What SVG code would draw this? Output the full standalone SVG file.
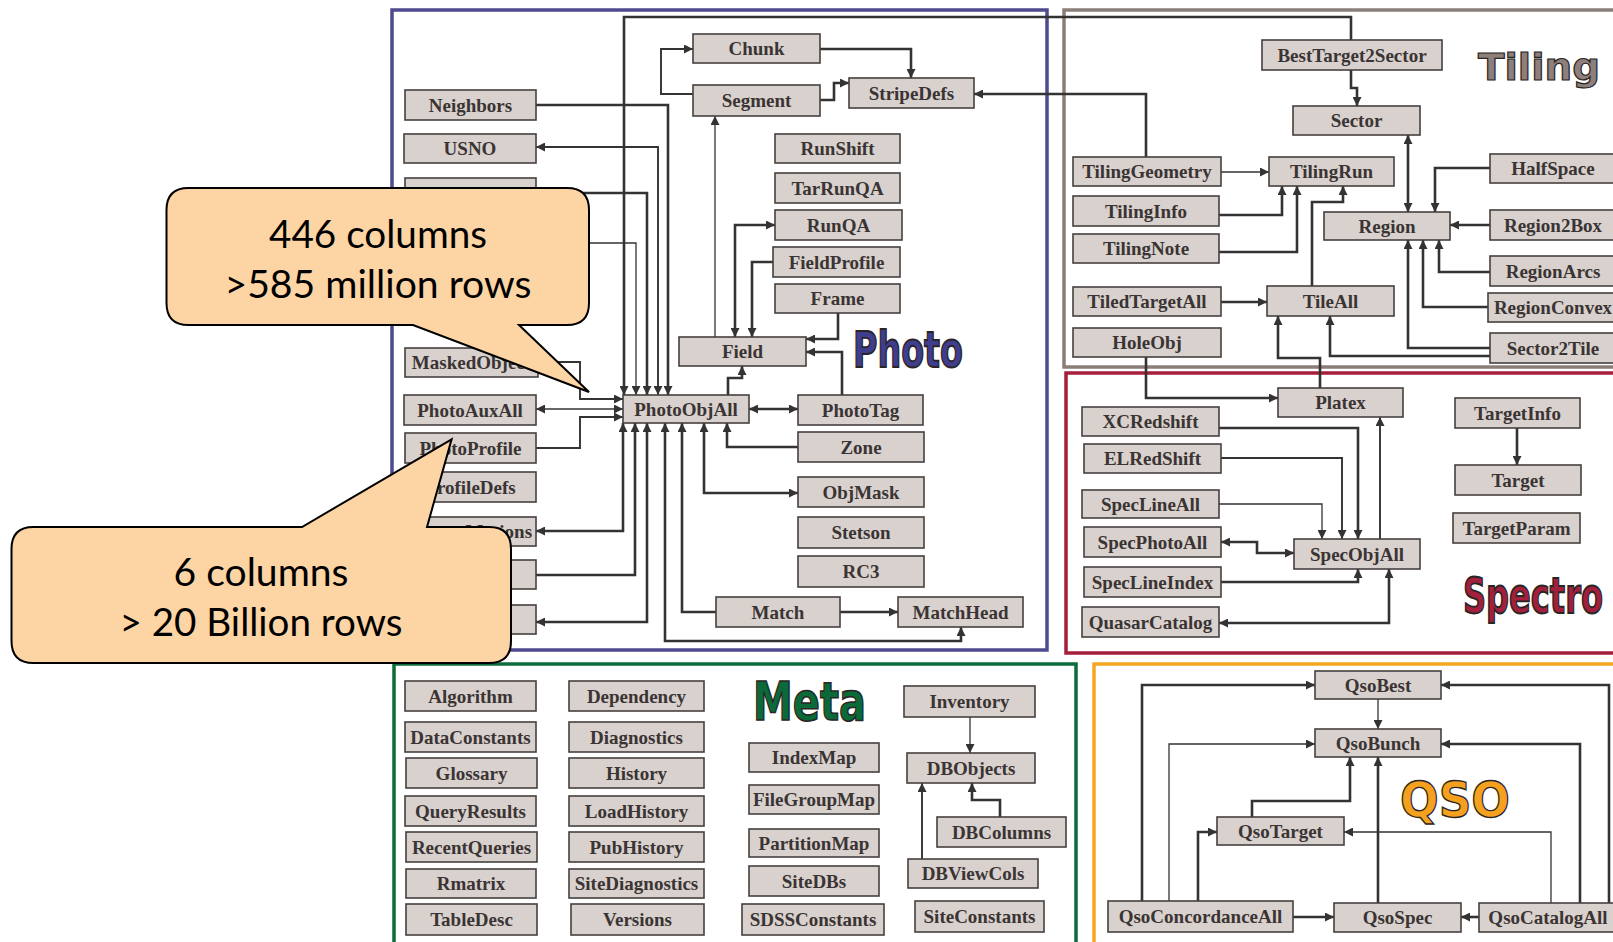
<svg xmlns="http://www.w3.org/2000/svg" width="1613" height="942" viewBox="0 0 1613 942">
<style>
.n rect{fill:#D9D1CD;stroke:#454040;stroke-width:1.6}
.n text{font-family:"Liberation Serif","Times New Roman",serif;font-weight:bold;font-size:19px;fill:#3a3434;text-anchor:middle}
.c path{fill:none;stroke:#333;stroke-width:2.6}
.c path.t{stroke-width:1.3}
.c path.m{stroke-width:1.9}
.e{marker-end:url(#ah)}
.b{marker-start:url(#ah);marker-end:url(#ah)}
.lbl{font-family:"DejaVu Sans","Liberation Sans",sans-serif;font-weight:bold;stroke:#2a2525;stroke-width:1.2}
.co{fill:#FDD4A4;stroke:#000;stroke-width:2}
.ct{font-family:Lato,"Liberation Sans",sans-serif;font-size:39px;fill:#000;text-anchor:middle}
</style>
<defs>
<marker id="ah" viewBox="0 0 10 10" refX="10" refY="5" markerWidth="9" markerHeight="9" markerUnits="userSpaceOnUse" orient="auto-start-reverse"><path d="M0,0 L10,5 L0,10 z" fill="#333"/></marker>
</defs>
<rect width="1613" height="942" fill="#fff"/>
<g id="frames" fill="none" stroke-width="3.5">
<rect x="392" y="10" width="655" height="640" stroke="#4E4A8E"/>
<rect x="1064" y="10" width="570" height="357" stroke="#8B7E79"/>
<rect x="1066" y="373" width="570" height="280" stroke="#A51E3C"/>
<rect x="394" y="664" width="682" height="300" stroke="#0E6B3C"/>
<rect x="1094" y="664" width="540" height="300" stroke="#F5A623"/>
</g>
<g id="connectors" class="c">
<path class="e" d="M1351,40 V17 H624 V395"/>
<path class="e" d="M536,105 H668 V395"/>
<path class="b m" d="M658,395 V147 H536"/>
<path class="e" d="M536,193 H647 V395"/>
<path class="e t" d="M536,243 H636 V395"/>
<path class="e m" d="M538,362 H580 V399 H623"/>
<path class="b t" d="M623,409 H536"/>
<path class="e m" d="M536,448 H580 V417 H623"/>
<path class="b" d="M623,423 V531 H536"/>
<path class="e" d="M536,575 H635 V423"/>
<path class="b" d="M647,423 V622 H536"/>
<path class="b" d="M665,423 V641 H961 V627"/>
<path class="e" d="M716,612 H682 V423"/>
<path class="b" d="M704,423 V493 H798"/>
<path class="e" d="M798,447 H727 V423"/>
<path class="b" d="M749,409 H798"/>
<path class="e" d="M728,395 V378 H742 V366"/>
<path class="e" d="M840,612 H898"/>
<path class="e" d="M838,313 V339 H806"/>
<path class="e" d="M842,395 V352 H806"/>
<path class="e t" d="M715,337 V116"/>
<path class="b" d="M775,225 H735 V337"/>
<path class="e" d="M773,262 H752 V337"/>
<path class="e m" d="M693,94 H661 V49 H693"/>
<path class="e" d="M820,49 H911 V78"/>
<path class="e" d="M820,100 H834 V83 H849"/>
<path class="e" d="M1146,157 V94 H974"/>
<path class="e" d="M1351,70 V88 H1357 V106"/>
<path class="e t" d="M1221,172 H1269"/>
<path class="e" d="M1219,215 H1282 V186"/>
<path class="e" d="M1219,252 H1297 V186"/>
<path class="e" d="M1312,286 V202 H1343 V186"/>
<path class="b" d="M1408,135 V212"/>
<path class="e" d="M1490,168 H1435 V212"/>
<path class="e" d="M1490,225 H1450"/>
<path class="e" d="M1490,272 H1439 V240"/>
<path class="e" d="M1488,307 H1423 V240"/>
<path class="e" d="M1490,348 H1408 V240"/>
<path class="e" d="M1490,356 H1330 V316"/>
<path class="e" d="M1221,302 H1267"/>
<path class="e" d="M1320,388 V358 H1278 V316"/>
<path class="e" d="M1146,357 V398 H1278"/>
<path class="e" d="M1219,428 H1358 V539"/>
<path class="e m" d="M1221,458 H1342 V539"/>
<path class="e t" d="M1219,504 H1322 V539"/>
<path class="e m" d="M1380,539 V417"/>
<path class="b" d="M1221,542 H1257 V553 H1294"/>
<path class="e" d="M1221,582 H1358 V569"/>
<path class="b" d="M1389,569 V623 H1219"/>
<path class="e" d="M1517,428 V465"/>
<path class="e t" d="M970,717 V753"/>
<path class="e m" d="M922,859 V783"/>
<path class="e" d="M1000,817 V800 H972 V783"/>
<path class="e" d="M1142,901 V685 H1315"/>
<path class="e t" d="M1169,901 V744 H1315"/>
<path class="e" d="M1198,901 V832 H1217"/>
<path class="e" d="M1292,917 H1334"/>
<path class="e t" d="M1378,699 V729"/>
<path class="e" d="M1252,817 V801 H1350 V757"/>
<path class="e" d="M1378,903 V757"/>
<path class="e" d="M1479,917 H1461"/>
<path class="e t" d="M1551,903 V832 H1344"/>
<path class="e" d="M1580,903 V744 H1441"/>
<path class="e" d="M1609,903 V685 H1441"/>
</g>
<g id="n-neighbors" class="n"><rect x="405" y="90" width="131" height="30"/><text x="470.5" y="111.5">Neighbors</text></g>
<g id="n-usno" class="n"><rect x="404" y="134" width="132" height="29"/><text x="470" y="155">USNO</text></g>
<g id="n-hidden1" class="n"><rect x="405" y="178" width="131" height="30"/></g>
<g id="n-maskedobject" class="n"><rect x="405" y="348" width="133" height="29"/><text x="471.5" y="369">MaskedObject</text></g>
<g id="n-photoauxall" class="n"><rect x="404" y="395" width="132" height="30"/><text x="470" y="416.5">PhotoAuxAll</text></g>
<g id="n-photoprofile" class="n"><rect x="405" y="433" width="131" height="30"/><text x="470.5" y="454.5">PhotoProfile</text></g>
<g id="n-profiledefs" class="n"><rect x="405" y="472" width="131" height="30"/><text x="470.5" y="493.5">ProfileDefs</text></g>
<g id="n-propermotions" class="n"><rect x="405" y="517" width="131" height="29"/><text x="470.5" y="538">ProperMotions</text></g>
<g id="n-hidden2" class="n"><rect x="405" y="560" width="131" height="29"/></g>
<g id="n-hidden3" class="n"><rect x="405" y="605" width="131" height="29"/></g>
<g id="n-chunk" class="n"><rect x="693" y="34" width="127" height="29"/><text x="756.5" y="55">Chunk</text></g>
<g id="n-segment" class="n"><rect x="693" y="85" width="127" height="31"/><text x="756.5" y="107">Segment</text></g>
<g id="n-stripedefs" class="n"><rect x="849" y="78" width="125" height="30"/><text x="911.5" y="99.5">StripeDefs</text></g>
<g id="n-runshift" class="n"><rect x="775" y="134" width="125" height="29"/><text x="837.5" y="155">RunShift</text></g>
<g id="n-tarrunqa" class="n"><rect x="775" y="173" width="125" height="30"/><text x="837.5" y="194.5">TarRunQA</text></g>
<g id="n-runqa" class="n"><rect x="775" y="210" width="127" height="30"/><text x="838.5" y="231.5">RunQA</text></g>
<g id="n-fieldprofile" class="n"><rect x="773" y="247" width="127" height="30"/><text x="836.5" y="268.5">FieldProfile</text></g>
<g id="n-frame" class="n"><rect x="775" y="284" width="125" height="29"/><text x="837.5" y="305">Frame</text></g>
<g id="n-field" class="n"><rect x="679" y="337" width="127" height="29"/><text x="742.5" y="358">Field</text></g>
<g id="n-photoobjall" class="n"><rect x="623" y="395" width="126" height="28"/><text x="686" y="415.5">PhotoObjAll</text></g>
<g id="n-phototag" class="n"><rect x="798" y="395" width="125" height="30"/><text x="860.5" y="416.5">PhotoTag</text></g>
<g id="n-zone" class="n"><rect x="798" y="432" width="126" height="30"/><text x="861" y="453.5">Zone</text></g>
<g id="n-objmask" class="n"><rect x="798" y="477" width="126" height="30"/><text x="861" y="498.5">ObjMask</text></g>
<g id="n-stetson" class="n"><rect x="798" y="517" width="126" height="31"/><text x="861" y="539">Stetson</text></g>
<g id="n-rc3" class="n"><rect x="798" y="556" width="126" height="31"/><text x="861" y="578">RC3</text></g>
<g id="n-match" class="n"><rect x="716" y="597" width="124" height="30"/><text x="778" y="618.5">Match</text></g>
<g id="n-matchhead" class="n"><rect x="898" y="597" width="125" height="30"/><text x="960.5" y="618.5">MatchHead</text></g>
<g id="n-besttarget2sector" class="n"><rect x="1262" y="40" width="180" height="30"/><text x="1352" y="61.5">BestTarget2Sector</text></g>
<g id="n-sector" class="n"><rect x="1293" y="106" width="127" height="29"/><text x="1356.5" y="127">Sector</text></g>
<g id="n-tilinggeometry" class="n"><rect x="1073" y="157" width="148" height="29"/><text x="1147" y="178">TilingGeometry</text></g>
<g id="n-tilingrun" class="n"><rect x="1269" y="157" width="125" height="29"/><text x="1331.5" y="178">TilingRun</text></g>
<g id="n-tilinginfo" class="n"><rect x="1073" y="196" width="146" height="30"/><text x="1146" y="217.5">TilingInfo</text></g>
<g id="n-tilingnote" class="n"><rect x="1073" y="234" width="146" height="29"/><text x="1146" y="255">TilingNote</text></g>
<g id="n-region" class="n"><rect x="1324" y="212" width="126" height="28"/><text x="1387" y="232.5">Region</text></g>
<g id="n-halfspace" class="n"><rect x="1490" y="154" width="127" height="29"/><text x="1553" y="175">HalfSpace</text></g>
<g id="n-region2box" class="n"><rect x="1490" y="210" width="127" height="30"/><text x="1553" y="231.5">Region2Box</text></g>
<g id="n-regionarcs" class="n"><rect x="1490" y="256" width="127" height="30"/><text x="1553" y="277.5">RegionArcs</text></g>
<g id="n-regionconvex" class="n"><rect x="1488" y="293" width="129" height="29"/><text x="1553" y="314">RegionConvex</text></g>
<g id="n-sector2tile" class="n"><rect x="1490" y="333" width="127" height="30"/><text x="1553" y="354.5">Sector2Tile</text></g>
<g id="n-tiledtargetall" class="n"><rect x="1073" y="287" width="148" height="29"/><text x="1147" y="308">TiledTargetAll</text></g>
<g id="n-tileall" class="n"><rect x="1267" y="286" width="127" height="30"/><text x="1330.5" y="307.5">TileAll</text></g>
<g id="n-holeobj" class="n"><rect x="1073" y="328" width="148" height="29"/><text x="1147" y="349">HoleObj</text></g>
<g id="n-platex" class="n"><rect x="1278" y="388" width="125" height="29"/><text x="1340.5" y="409">Platex</text></g>
<g id="n-xcredshift" class="n"><rect x="1082" y="407" width="137" height="29"/><text x="1150.5" y="428">XCRedshift</text></g>
<g id="n-elredshift" class="n"><rect x="1084" y="444" width="137" height="29"/><text x="1152.5" y="465">ELRedShift</text></g>
<g id="n-speclineall" class="n"><rect x="1082" y="490" width="137" height="28"/><text x="1150.5" y="510.5">SpecLineAll</text></g>
<g id="n-specphotoall" class="n"><rect x="1084" y="527" width="137" height="30"/><text x="1152.5" y="548.5">SpecPhotoAll</text></g>
<g id="n-speclineindex" class="n"><rect x="1084" y="567" width="137" height="30"/><text x="1152.5" y="588.5">SpecLineIndex</text></g>
<g id="n-quasarcatalog" class="n"><rect x="1082" y="607" width="137" height="30"/><text x="1150.5" y="628.5">QuasarCatalog</text></g>
<g id="n-specobjall" class="n"><rect x="1294" y="539" width="126" height="30"/><text x="1357" y="560.5">SpecObjAll</text></g>
<g id="n-targetinfo" class="n"><rect x="1455" y="398" width="125" height="30"/><text x="1517.5" y="419.5">TargetInfo</text></g>
<g id="n-target" class="n"><rect x="1455" y="465" width="126" height="30"/><text x="1518" y="486.5">Target</text></g>
<g id="n-targetparam" class="n"><rect x="1453" y="513" width="127" height="30"/><text x="1516.5" y="534.5">TargetParam</text></g>
<g id="n-algorithm" class="n"><rect x="405" y="681" width="131" height="30"/><text x="470.5" y="702.5">Algorithm</text></g>
<g id="n-dataconstants" class="n"><rect x="405" y="722" width="131" height="30"/><text x="470.5" y="743.5">DataConstants</text></g>
<g id="n-glossary" class="n"><rect x="406" y="758" width="131" height="30"/><text x="471.5" y="779.5">Glossary</text></g>
<g id="n-queryresults" class="n"><rect x="405" y="796" width="131" height="30"/><text x="470.5" y="817.5">QueryResults</text></g>
<g id="n-recentqueries" class="n"><rect x="406" y="832" width="131" height="30"/><text x="471.5" y="853.5">RecentQueries</text></g>
<g id="n-rmatrix" class="n"><rect x="406" y="869" width="130" height="29"/><text x="471" y="890">Rmatrix</text></g>
<g id="n-tabledesc" class="n"><rect x="406" y="904" width="131" height="31"/><text x="471.5" y="926">TableDesc</text></g>
<g id="n-dependency" class="n"><rect x="569" y="681" width="135" height="30"/><text x="636.5" y="702.5">Dependency</text></g>
<g id="n-diagnostics" class="n"><rect x="569" y="722" width="135" height="30"/><text x="636.5" y="743.5">Diagnostics</text></g>
<g id="n-history" class="n"><rect x="569" y="758" width="135" height="30"/><text x="636.5" y="779.5">History</text></g>
<g id="n-loadhistory" class="n"><rect x="569" y="796" width="135" height="30"/><text x="636.5" y="817.5">LoadHistory</text></g>
<g id="n-pubhistory" class="n"><rect x="569" y="832" width="135" height="30"/><text x="636.5" y="853.5">PubHistory</text></g>
<g id="n-sitediagnostics" class="n"><rect x="569" y="869" width="135" height="29"/><text x="636.5" y="890">SiteDiagnostics</text></g>
<g id="n-versions" class="n"><rect x="571" y="904" width="133" height="31"/><text x="637.5" y="926">Versions</text></g>
<g id="n-indexmap" class="n"><rect x="749" y="743" width="130" height="29"/><text x="814" y="764">IndexMap</text></g>
<g id="n-filegroupmap" class="n"><rect x="749" y="785" width="130" height="29"/><text x="814" y="806">FileGroupMap</text></g>
<g id="n-partitionmap" class="n"><rect x="749" y="829" width="130" height="28"/><text x="814" y="849.5">PartitionMap</text></g>
<g id="n-sitedbs" class="n"><rect x="749" y="866" width="130" height="30"/><text x="814" y="887.5">SiteDBs</text></g>
<g id="n-sdssconstants" class="n"><rect x="742" y="904" width="142" height="31"/><text x="813" y="926">SDSSConstants</text></g>
<g id="n-inventory" class="n"><rect x="904" y="686" width="131" height="31"/><text x="969.5" y="708">Inventory</text></g>
<g id="n-dbobjects" class="n"><rect x="907" y="753" width="128" height="30"/><text x="971" y="774.5">DBObjects</text></g>
<g id="n-dbcolumns" class="n"><rect x="937" y="817" width="129" height="30"/><text x="1001.5" y="838.5">DBColumns</text></g>
<g id="n-dbviewcols" class="n"><rect x="908" y="859" width="130" height="29"/><text x="973" y="880">DBViewCols</text></g>
<g id="n-siteconstants" class="n"><rect x="915" y="901" width="129" height="31"/><text x="979.5" y="923">SiteConstants</text></g>
<g id="n-qsobest" class="n"><rect x="1315" y="671" width="126" height="28"/><text x="1378" y="691.5">QsoBest</text></g>
<g id="n-qsobunch" class="n"><rect x="1315" y="729" width="126" height="28"/><text x="1378" y="749.5">QsoBunch</text></g>
<g id="n-qsotarget" class="n"><rect x="1217" y="817" width="127" height="28"/><text x="1280.5" y="837.5">QsoTarget</text></g>
<g id="n-qsoconcordanceall" class="n"><rect x="1108" y="901" width="185" height="31"/><text x="1200.5" y="923">QsoConcordanceAll</text></g>
<g id="n-qsospec" class="n"><rect x="1334" y="903" width="127" height="29"/><text x="1397.5" y="924">QsoSpec</text></g>
<g id="n-qsocatalogall" class="n"><rect x="1479" y="903" width="140" height="29"/><text x="1548" y="924">QsoCatalogAll</text></g>
<g id="labels">
<text class="lbl" transform="translate(853,367) scale(1,1.497)" x="0" y="0" font-size="33.4" textLength="110" lengthAdjust="spacingAndGlyphs" fill="#3F3D8F">Photo</text>
<text class="lbl" x="1478" y="80" font-size="38" textLength="122" lengthAdjust="spacingAndGlyphs" fill="#8E7F7A">Tiling</text>
<text class="lbl" transform="translate(753,720) scale(1,1.325)" x="0" y="0" font-size="40" textLength="113" lengthAdjust="spacingAndGlyphs" fill="#0B6B38">Meta</text>
<text class="lbl" transform="translate(1463,613) scale(1,1.558)" x="0" y="0" font-size="32" textLength="140" lengthAdjust="spacingAndGlyphs" fill="#A3203C">Spectro</text>
<text class="lbl" transform="translate(1400,817) scale(1,1.1)" x="0" y="0" font-size="45.5" textLength="110" lengthAdjust="spacingAndGlyphs" fill="#F5A01E">QSO</text>
</g>
<g id="callout-1">
<path class="co" d="M188.5,188 H567 Q589,188 589,210 V303 Q589,325 567,325 H519 L589,392 L413,325 H188.5 Q166.5,325 166.5,303 V210 Q166.5,188 188.5,188 Z"/>
<text class="ct" x="378" y="248" textLength="218" lengthAdjust="spacingAndGlyphs">446 columns</text>
<text class="ct" x="378" y="298" textLength="307" lengthAdjust="spacingAndGlyphs">&gt;585 million rows</text>
</g>
<g id="callout-2">
<path class="co" d="M33.5,527 H302 L451.6,439.3 L427,527 H489 Q511,527 511,549 V641 Q511,663 489,663 H33.5 Q11.5,663 11.5,641 V549 Q11.5,527 33.5,527 Z"/>
<text class="ct" x="261" y="586" textLength="175" lengthAdjust="spacingAndGlyphs">6 columns</text>
<text class="ct" x="261" y="636" textLength="283" lengthAdjust="spacingAndGlyphs">&gt; 20 Billion rows</text>
</g>
</svg>
